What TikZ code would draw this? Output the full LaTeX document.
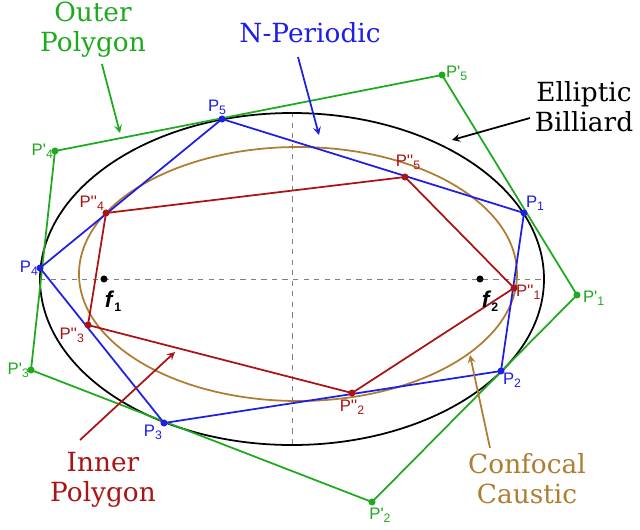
\documentclass[tikz,border=0pt]{standalone}
\usepackage{fontspec}
\setmainfont{DejaVu Serif}
\newfontfamily\lbl{Liberation Sans}
\newcommand{\mysub}[1]{\raisebox{-0.35ex}{\scriptsize #1}}
\begin{document}
\begin{tikzpicture}[x=0.02cm,y=-0.02cm,
  big/.style={font=\fontsize{15}{17}\selectfont,align=left},
  pl/.style={font=\lbl\fontsize{9.5}{10}\selectfont,inner sep=1pt},
  dot/.style={circle,fill,inner sep=0pt,minimum size=4pt},
  arr/.style={->,>=stealth,line width=1pt}]
\definecolor{gr}{RGB}{30,170,30}
\definecolor{bl}{RGB}{30,30,230}
\definecolor{rd}{RGB}{170,20,20}
\definecolor{br}{RGB}{175,125,50}
\useasboundingbox (0,0) rectangle (640,529);
\draw[gray,dashed] (40,279) -- (545,279);
\draw[gray,dashed] (292,112) -- (292,446);
\draw[line width=1pt] (292,279) ellipse [x radius=252,y radius=166];
\draw[br,line width=1pt] (298,274) ellipse [x radius=219,y radius=127];
\coordinate (P1) at (524,213); \coordinate (P2) at (501,371); \coordinate (P3) at (164,423);
\coordinate (P4) at (40,268); \coordinate (P5) at (222,119);
\coordinate (Q1) at (577,295); \coordinate (Q2) at (372,502); \coordinate (Q3) at (31,370);
\coordinate (Q4) at (55,151); \coordinate (Q5) at (442,75);
\coordinate (R1) at (514,288); \coordinate (R2) at (352,393); \coordinate (R3) at (88,325);
\coordinate (R4) at (106,213); \coordinate (R5) at (405,177);
\draw[gr,line width=1pt] (Q1)--(Q2)--(Q3)--(Q4)--(Q5)--cycle;
\draw[bl,line width=1pt] (P1)--(P2)--(P3)--(P4)--(P5)--cycle;
\draw[rd,line width=1pt] (R1)--(R2)--(R3)--(R4)--(R5)--cycle;
\foreach \p in {P1,P2,P3,P4,P5} \node[dot,bl] at (\p) {};
\foreach \p in {Q1,Q2,Q3,Q4,Q5} \node[dot,gr] at (\p) {};
\foreach \p in {R1,R2,R3,R4,R5} \node[dot,rd] at (\p) {};
\node[dot] (f1) at (104,279) {}; \node[dot] (f2) at (480,279) {};
\node[font=\lbl\bfseries\fontsize{13}{14}\selectfont] at (113,301) {\textit{f}\mysub{1}};
\node[font=\lbl\bfseries\fontsize{13}{14}\selectfont] at (490,301) {\textit{f}\mysub{2}};
\node[pl,bl,anchor=south west] at (P1) {P\mysub{1}};
\node[pl,bl,anchor=north west] at (P2) {P\mysub{2}};
\node[pl,bl,anchor=north east] at (P3) {P\mysub{3}};
\node[pl,bl,anchor=east] at (P4) {P\mysub{4}};
\node[pl,bl,anchor=south] at (217,117) {P\mysub{5}};
\node[pl,gr,anchor=west] at (581,298) {P{'}\mysub{1}};
\node[pl,gr,anchor=north] at (380,506) {P{'}\mysub{2}};
\node[pl,gr,anchor=east] at (Q3) {P{'}\mysub{3}};
\node[pl,gr,anchor=east] at (Q4) {P{'}\mysub{4}};
\node[pl,gr,anchor=west] at (444,73) {P{'}\mysub{5}};
\node[pl,rd,anchor=west] at (514,292) {P{'}{'}\mysub{1}};
\node[pl,rd,anchor=north] at (352,398) {P{'}{'}\mysub{2}};
\node[pl,rd,anchor=east] at (86,335) {P{'}{'}\mysub{3}};
\node[pl,rd,anchor=east] at (106,203) {P{'}{'}\mysub{4}};
\node[pl,rd,anchor=south] at (408,172) {P{'}{'}\mysub{5}};
\node[big,gr,align=center] (outer) at (93,30) {Outer\\Polygon};
\node[big,bl] (nper) at (310,33) {N-Periodic};
\node[big,align=center] (ell) at (584,107) {Elliptic\\Billiard};
\node[big,rd,align=center] (inner) at (103,480) {Inner\\Polygon};
\node[big,br,align=center] (conf) at (527,479) {Confocal\\Caustic};
\coordinate (ta) at (120,133); \coordinate (tb) at (319,135);
\coordinate (tc) at (452,140); \coordinate (td) at (175,352); \coordinate (te) at (470,355);
\draw[arr,gr] (outer) -- (ta);
\draw[arr,bl] (298,57) -- (tb);
\draw[arr] (530,118) -- (tc);
\draw[arr,rd] (80,440) -- (td);
\draw[arr,br] (490,448) -- (te);
\end{tikzpicture}
\end{document}
